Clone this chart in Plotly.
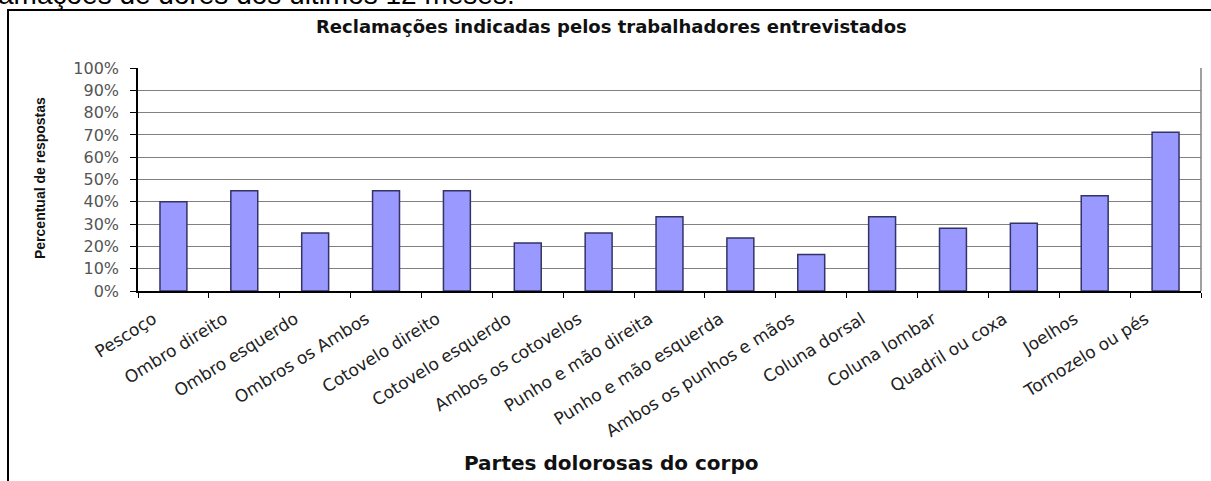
import plotly.graph_objects as go

categories = ["Pescoço", "Ombro direito", "Ombro esquerdo", "Ombros os Ambos",
              "Cotovelo direito", "Cotovelo esquerdo", "Ambos os cotovelos",
              "Punho e mão direita", "Punho e mão esquerda", "Ambos os punhos e mãos",
              "Coluna dorsal", "Coluna lombar", "Quadril ou coxa", "Joelhos",
              "Tornozelo ou pés"]
values = [0.40, 0.45, 0.26, 0.45, 0.45, 0.215, 0.26, 0.333, 0.238, 0.164,
          0.333, 0.281, 0.304, 0.427, 0.712]
y_ticks = [i / 10 for i in range(11)]
y_ticklabels = [f"{i*10}%" for i in range(11)]

W, H = 1211, 481
L, R, T, B = 138, 10, 68, 190
PW, PH = W - L - R, H - T - B

def px(x):
    return (x - L) / PW

def py(y):
    return (H - B - y) / PH

fig = go.Figure()
fig.add_trace(go.Bar(
    x=categories, y=values, width=0.38,
    marker=dict(color="#9999FF", line=dict(color="#333366", width=1.5)),
))

fig.update_layout(
    width=W, height=H,
    margin=dict(l=L, r=R, t=T, b=B),
    paper_bgcolor="white", plot_bgcolor="white",
    showlegend=False,
    xaxis=dict(
        type="category",
        tickangle=-32,
        ticks="outside", tickson="boundaries", ticklen=5, tickcolor="black",
        showline=True, linecolor="black", linewidth=1.5,
        showgrid=False,
        ticklabelshift=-20, ticklabelstandoff=10,
        tickfont=dict(family="DejaVu Sans", size=17, color="#222"),
    ),
    yaxis=dict(
        range=[0, 1],
        tickvals=y_ticks, ticktext=y_ticklabels,
        ticks="outside", ticklen=6, tickcolor="black",
        showline=True, linecolor="black", linewidth=1.5,
        showgrid=True, gridcolor="#808080", gridwidth=1,
        zeroline=False,
        ticklabelstandoff=8,
        tickfont=dict(family="DejaVu Sans", size=16, color="#555"),
    ),
    shapes=[
        dict(type="rect", xref="paper", yref="paper",
             x0=px(8), x1=px(1230), y0=py(500), y1=py(10),
             line=dict(color="black", width=2), layer="below"),
        dict(type="line", xref="paper", yref="paper",
             x0=1, x1=1, y0=0, y1=1,
             line=dict(color="#808080", width=1.5)),
    ],
    annotations=[
        dict(text="Reclamações de dores dos últimos 12 meses.",
             xref="paper", yref="paper", x=px(517), y=py(12),
             xanchor="right", yanchor="bottom", showarrow=False,
             font=dict(family="Liberation Sans", size=28, color="black")),
        dict(text="<b>Reclamações indicadas pelos trabalhadores entrevistados</b>",
             xref="paper", yref="paper", x=px(611), y=py(27),
             xanchor="center", yanchor="middle", showarrow=False,
             font=dict(family="DejaVu Sans", size=18, color="#111")),
        dict(text="<b>Partes dolorosas do corpo</b>",
             xref="paper", yref="paper", x=px(611), y=py(463),
             xanchor="center", yanchor="middle", showarrow=False,
             font=dict(family="DejaVu Sans", size=20, color="#111")),
        dict(text="<b>Percentual de respostas</b>",
             xref="paper", yref="paper", x=px(40), y=py(178),
             xanchor="center", yanchor="middle", showarrow=False, textangle=-90,
             font=dict(family="Liberation Sans", size=14, color="#111")),
    ],
)

fig.write_html("out.html")
